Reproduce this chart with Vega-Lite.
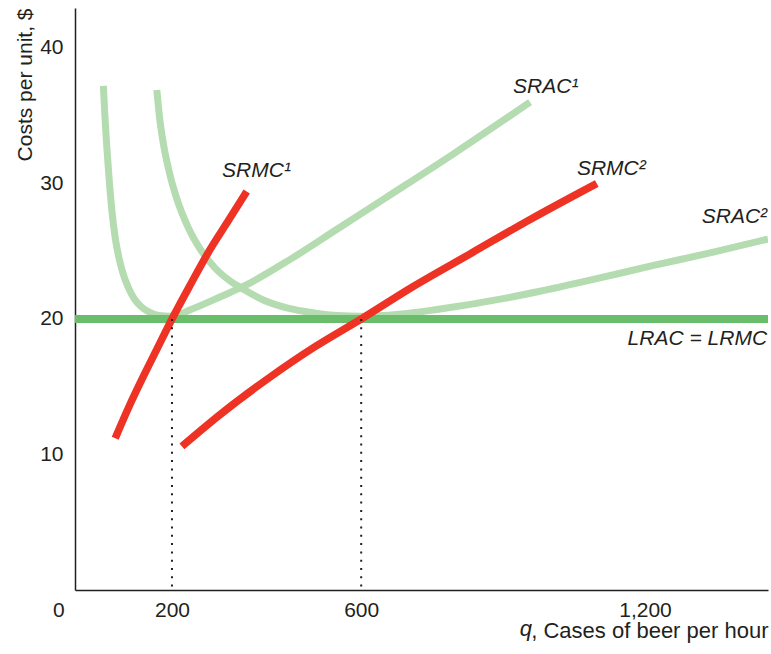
{
  "$schema": "https://vega.github.io/schema/vega-lite/v6.json",
  "width": 693,
  "height": 582,
  "autosize": "none",
  "padding": {"left": 75, "top": 8, "right": 3, "bottom": 64},
  "background": "white",
  "config": {
    "view": {"stroke": null},
    "font": "Liberation Sans",
    "axis": {"grid": false, "ticks": false, "domainColor": "#231f20", "domainWidth": 1.5, "labelColor": "#231f20", "titleColor": "#231f20", "labelFontSize": 21, "titleFontSize": 21, "titleFontWeight": "normal", "labelFont": "Liberation Sans", "titleFont": "Liberation Sans"}
  },
  "datasets": {
    "curves": [
      {"curve": "SRAC1", "q": 55, "c": 37.2}, {"curve": "SRAC1", "q": 58, "c": 35.1}, {"curve": "SRAC1", "q": 62, "c": 32.8}, {"curve": "SRAC1", "q": 67, "c": 30.4}, {"curve": "SRAC1", "q": 73, "c": 28.0}, {"curve": "SRAC1", "q": 80, "c": 26.0}, {"curve": "SRAC1", "q": 88, "c": 24.5}, {"curve": "SRAC1", "q": 97, "c": 23.3}, {"curve": "SRAC1", "q": 108, "c": 22.3}, {"curve": "SRAC1", "q": 120, "c": 21.5}, {"curve": "SRAC1", "q": 135, "c": 20.9}, {"curve": "SRAC1", "q": 152, "c": 20.5}, {"curve": "SRAC1", "q": 172, "c": 20.25}, {"curve": "SRAC1", "q": 200, "c": 20.2}, {"curve": "SRAC1", "q": 240, "c": 20.7}, {"curve": "SRAC1", "q": 300, "c": 21.6}, {"curve": "SRAC1", "q": 351, "c": 22.4}, {"curve": "SRAC1", "q": 450, "c": 24.4}, {"curve": "SRAC1", "q": 548, "c": 26.6}, {"curve": "SRAC1", "q": 650, "c": 28.9}, {"curve": "SRAC1", "q": 800, "c": 32.3}, {"curve": "SRAC1", "q": 957, "c": 36.0},
      {"curve": "SRAC2", "q": 168, "c": 36.9}, {"curve": "SRAC2", "q": 174, "c": 34.8}, {"curve": "SRAC2", "q": 182, "c": 32.9}, {"curve": "SRAC2", "q": 196, "c": 30.6}, {"curve": "SRAC2", "q": 210, "c": 28.9}, {"curve": "SRAC2", "q": 235, "c": 26.7}, {"curve": "SRAC2", "q": 259, "c": 25.2}, {"curve": "SRAC2", "q": 290, "c": 23.8}, {"curve": "SRAC2", "q": 323, "c": 22.8}, {"curve": "SRAC2", "q": 351, "c": 22.2}, {"curve": "SRAC2", "q": 393, "c": 21.4}, {"curve": "SRAC2", "q": 445, "c": 20.8}, {"curve": "SRAC2", "q": 500, "c": 20.45}, {"curve": "SRAC2", "q": 550, "c": 20.25}, {"curve": "SRAC2", "q": 600, "c": 20.2}, {"curve": "SRAC2", "q": 680, "c": 20.35}, {"curve": "SRAC2", "q": 760, "c": 20.7}, {"curve": "SRAC2", "q": 900, "c": 21.5}, {"curve": "SRAC2", "q": 978, "c": 22.05}, {"curve": "SRAC2", "q": 1100, "c": 23.0}, {"curve": "SRAC2", "q": 1218, "c": 23.95}, {"curve": "SRAC2", "q": 1340, "c": 24.9}, {"curve": "SRAC2", "q": 1460, "c": 25.9},
      {"curve": "LRAC", "q": -5, "c": 20}, {"curve": "LRAC", "q": 1460, "c": 20},
      {"curve": "SRMC1", "q": 80, "c": 11.2}, {"curve": "SRMC1", "q": 110, "c": 13.6}, {"curve": "SRMC1", "q": 140, "c": 15.8}, {"curve": "SRMC1", "q": 170, "c": 17.9}, {"curve": "SRMC1", "q": 200, "c": 20.0}, {"curve": "SRMC1", "q": 240, "c": 22.6}, {"curve": "SRMC1", "q": 280, "c": 25.1}, {"curve": "SRMC1", "q": 320, "c": 27.3}, {"curve": "SRMC1", "q": 358, "c": 29.4},
      {"curve": "SRMC2", "q": 221, "c": 10.6}, {"curve": "SRMC2", "q": 300, "c": 12.9}, {"curve": "SRMC2", "q": 407, "c": 15.7}, {"curve": "SRMC2", "q": 500, "c": 17.9}, {"curve": "SRMC2", "q": 600, "c": 20.0}, {"curve": "SRMC2", "q": 710, "c": 22.4}, {"curve": "SRMC2", "q": 830, "c": 24.8}, {"curve": "SRMC2", "q": 960, "c": 27.4}, {"curve": "SRMC2", "q": 1098, "c": 30.0}
    ],
    "drops": [
      {"q": 200, "c0": 0, "c1": 20},
      {"q": 600, "c0": 0, "c1": 20}
    ],
    "labelsLeft": [
      {"label": "SRAC¹", "q": 921, "c": 36.7},
      {"label": "SRMC²", "q": 1056, "c": 30.6},
      {"label": "SRMC¹", "q": 306, "c": 30.5}
    ],
    "labelsRight": [
      {"label": "SRAC²", "q": 1458, "c": 27.1},
      {"label": "LRAC = LRMC", "q": 1458, "c": 18.1}
    ],
    "qLabel": [
      {"label": "q", "q": 961, "c": -3.4}
    ]
  },
  "layer": [
    {
      "data": {"name": "curves"},
      "transform": [{"filter": "datum.curve == 'SRAC1' || datum.curve == 'SRAC2'"}],
      "mark": {"type": "line", "interpolate": "monotone", "color": "#b4dcb0", "strokeWidth": 7, "clip": true},
      "encoding": {
        "x": {"field": "q", "type": "quantitative", "scale": {"domain": [-5, 1460], "nice": false, "zero": false},
          "axis": {"values": [0, 200, 600, 1200], "format": ",d", "labelFlush": false, "labelPadding": 9, "labelOffset": {"expr": "datum.value == 0 ? -19 : 0"},
            "title": ", Cases of beer per hour", "titleFontSize": 22, "titleX": 693, "titleY": 47, "titleAlign": "right", "titleBaseline": "alphabetic", "titleAnchor": null}},
        "y": {"field": "c", "type": "quantitative", "scale": {"domain": [0, 42.95], "nice": false, "zero": false},
          "axis": {"values": [10, 20, 30, 40], "labelPadding": 12, "labelFlush": false,
            "title": "Costs per unit, $", "titleX": -44, "titleY": 0, "titleAngle": -90, "titleAlign": "right", "titleBaseline": "alphabetic", "titleAnchor": null}},
        "detail": {"field": "curve"}
      }
    },
    {
      "data": {"name": "curves"},
      "transform": [{"filter": "datum.curve == 'LRAC'"}],
      "mark": {"type": "line", "color": "#6abd6a", "strokeWidth": 8},
      "encoding": {
        "x": {"field": "q", "type": "quantitative"},
        "y": {"field": "c", "type": "quantitative"}
      }
    },
    {
      "data": {"name": "curves"},
      "transform": [{"filter": "datum.curve == 'SRMC1' || datum.curve == 'SRMC2'"}],
      "mark": {"type": "line", "interpolate": "monotone", "color": "#ee3224", "strokeWidth": 7.5},
      "encoding": {
        "x": {"field": "q", "type": "quantitative"},
        "y": {"field": "c", "type": "quantitative"},
        "detail": {"field": "curve"}
      }
    },
    {
      "data": {"name": "drops"},
      "mark": {"type": "rule", "color": "#231f20", "strokeWidth": 2, "strokeDash": [2, 6.3]},
      "encoding": {
        "x": {"field": "q", "type": "quantitative"},
        "y": {"field": "c1", "type": "quantitative"},
        "y2": {"field": "c0"}
      }
    },
    {
      "data": {"name": "labelsLeft"},
      "mark": {"type": "text", "align": "left", "baseline": "alphabetic", "fontSize": 21, "fontStyle": "italic", "color": "#231f20"},
      "encoding": {
        "x": {"field": "q", "type": "quantitative"},
        "y": {"field": "c", "type": "quantitative"},
        "text": {"field": "label"}
      }
    },
    {
      "data": {"name": "labelsRight"},
      "mark": {"type": "text", "align": "right", "baseline": "alphabetic", "fontSize": 21, "fontStyle": "italic", "color": "#231f20"},
      "encoding": {
        "x": {"field": "q", "type": "quantitative"},
        "y": {"field": "c", "type": "quantitative"},
        "text": {"field": "label"}
      }
    },
    {
      "data": {"name": "qLabel"},
      "mark": {"type": "text", "align": "right", "baseline": "alphabetic", "fontSize": 22, "fontStyle": "italic", "color": "#231f20", "clip": false},
      "encoding": {
        "x": {"field": "q", "type": "quantitative"},
        "y": {"field": "c", "type": "quantitative"},
        "text": {"field": "label"}
      }
    }
  ]
}
